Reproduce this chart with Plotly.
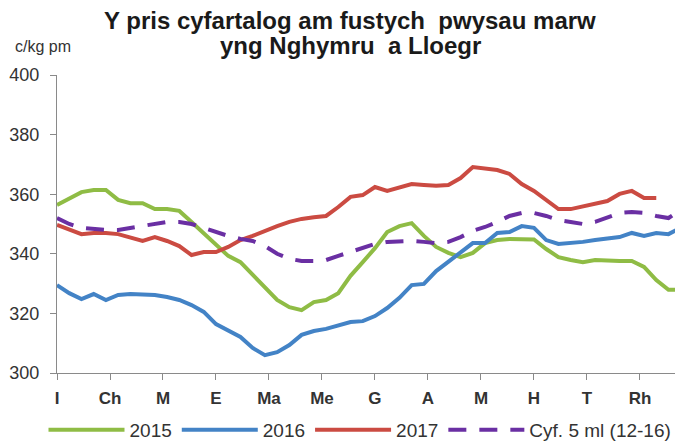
import plotly.graph_objects as go

weeks = list(range(52))
month_ticks = [k * 52 / 12 for k in range(12)]
month_labels = ["I", "Ch", "M", "E", "Ma", "Me", "G", "A", "M", "H", "T", "Rh"]

y2015 = [356.4, 358.7, 360.7, 361.4, 361.4, 358.1, 357.0, 357.0, 355.0, 355.0,
         354.4, 350.7, 347.0, 343.0, 339.3, 337.2, 332.9, 328.5, 324.5, 322.1,
         321.1, 323.8, 324.5, 326.8, 332.6, 337.2, 341.9, 347.3, 349.3, 350.3,
         346.0, 342.3, 340.3, 338.9, 340.3, 343.6, 344.6, 345.0, 345.0, 344.8,
         341.6, 338.9, 337.9, 337.2, 337.9, 337.6, 337.6, 337.6, 335.6, 331.2,
         327.9, 327.9]
y2016 = [329.5, 326.8, 324.8, 326.5, 324.5, 326.2, 326.5, 326.5, 326.2, 325.5,
         324.5, 322.8, 320.5, 316.4, 314.1, 312.1, 308.4, 306.0, 307.0, 309.4,
         312.8, 314.1, 314.8, 316.1, 317.1, 317.4, 319.1, 321.8, 325.2, 329.5,
         329.9, 334.2, 337.2, 340.3, 343.6, 343.6, 347.0, 347.3, 349.3, 348.7,
         344.6, 343.3, 343.6, 344.0, 344.6, 345.0, 345.6, 347.0, 346.0, 347.0,
         346.6, 348.7]
y2017 = [349.7, 348.0, 346.6, 347.0, 347.0, 346.6, 345.6, 344.3, 345.6, 344.3,
         342.6, 339.6, 340.6, 340.6, 342.3, 344.6, 346.0, 347.7, 349.3, 350.7,
         351.7, 352.3, 352.7, 355.7, 359.1, 359.7, 362.4, 361.1, 362.4, 363.4,
         363.1, 362.8, 363.1, 365.4, 369.1, 368.5, 368.1, 366.8, 363.4, 361.1,
         358.1, 355.0, 355.0, 356.0, 357.0, 357.7, 360.1, 361.1, 358.7, 358.7]
y_avg = [352.0, 350.0, 348.7, 348.3, 348.0, 348.0, 348.7, 349.3, 350.0, 350.7,
         350.7, 350.0, 348.7, 347.3, 346.0, 345.0, 344.3, 342.6, 340.0, 338.3,
         337.6, 337.6, 337.9, 339.3, 340.6, 342.0, 343.3, 344.0, 344.3, 344.3,
         344.0, 343.6, 344.0, 345.6, 347.7, 349.0, 350.7, 352.7, 353.7, 353.7,
         352.7, 351.3, 350.7, 350.0, 350.7, 352.3, 353.7, 354.0, 353.7, 352.7,
         352.0, 354.7]
y_ticks = [300, 320, 340, 360, 380, 400]

series = [
    ("2015", y2015, "#8fbc45", "solid"),
    ("2016", y2016, "#4383c6", "solid"),
    ("2017", y2017, "#cb4b42", "solid"),
    ("Cyf. 5 ml (12-16)", y_avg, "#6a2fa3", "18px,13px"),
]

# page has an 8px body margin: figure coordinates = page coordinates - 8
L, T, B = 49, 67, 365          # plot area left/top/bottom in figure px
W, H = 683, 443
PW = W - L                      # plot width in figure px
PH = B - T

def px(xp):
    return (xp - 8 - L) / PW

def py(yp):
    return (B - (yp - 8)) / PH

fig = go.Figure()
for name, vals, col, dash in series:
    fig.add_trace(go.Scatter(
        x=weeks[:len(vals)], y=vals, name=name, mode="lines",
        line=dict(color=col, width=4, dash=dash),
    ))

fig.update_layout(
    width=W, height=H,
    margin=dict(l=L, r=0, t=T, b=H - B, autoexpand=False),
    paper_bgcolor="white", plot_bgcolor="white",
    font=dict(family="Liberation Sans, Arial, sans-serif", color="#3a3a3a"),
    showlegend=True,
    legend=dict(
        orientation="h", x=px(360), xanchor="center", y=py(430), yanchor="middle",
        font=dict(size=19, color="#333333"), itemwidth=76,
        tracegroupgap=0, bgcolor="rgba(0,0,0,0)",
    ),
    xaxis=dict(
        range=[0, PW / 12.23], tickvals=month_ticks,
        ticktext=["<b>%s</b>" % m for m in month_labels],
        showgrid=False, zeroline=False,
        showline=True, linecolor="#8a8a8a", linewidth=1,
        ticks="outside", ticklen=6, tickcolor="#8a8a8a",
        tickfont=dict(size=17, color="#333333"),
        ticklabelstandoff=4,
    ),
    yaxis=dict(
        range=[300, 400], tickvals=y_ticks,
        showgrid=False, zeroline=False,
        showline=True, linecolor="#8a8a8a", linewidth=1,
        ticks="outside", ticklen=6, tickcolor="#8a8a8a",
        tickfont=dict(size=18, color="#333333"),
        ticklabelstandoff=7,
    ),
    annotations=[
        dict(
            text="<b>Y pris cyfartalog am fustych  pwysau marw</b>",
            xref="paper", yref="paper", x=px(350), y=py(20),
            xanchor="center", yanchor="middle", showarrow=False,
            font=dict(size=24, color="#1a1a1a"),
        ),
        dict(
            text="<b>yng Nghymru  a Lloegr</b>",
            xref="paper", yref="paper", x=px(350), y=py(45),
            xanchor="center", yanchor="middle", showarrow=False,
            font=dict(size=24, color="#1a1a1a"),
        ),
        dict(
            text="c/kg pm", xref="paper", yref="paper",
            x=px(13), y=py(47), xanchor="left", yanchor="middle",
            showarrow=False, font=dict(size=16, color="#333333"),
        ),
    ],
)

fig.write_html("out.html")
